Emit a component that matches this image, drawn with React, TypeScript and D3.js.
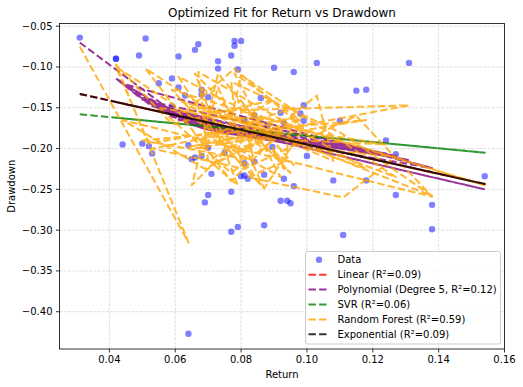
import React from "react";
import * as d3 from "d3";

// ---- data (in original data order) ----
const returns = [
  0.031, 0.064, 0.042, 0.059, 0.090, 0.068, 0.073, 0.088, 0.064, 0.131,
  0.063, 0.078, 0.099, 0.087, 0.059, 0.154, 0.086, 0.065, 0.073, 0.087,
  0.068, 0.127, 0.080, 0.075, 0.061, 0.093, 0.071, 0.099, 0.052, 0.042,
  0.049, 0.081, 0.103, 0.108, 0.070, 0.138, 0.110, 0.077, 0.080, 0.068,
  0.092, 0.070, 0.067, 0.118, 0.061, 0.096, 0.079, 0.084, 0.050, 0.118,
  0.066, 0.079, 0.066, 0.095, 0.081, 0.096, 0.093, 0.078, 0.098, 0.069,
  0.044, 0.138, 0.115, 0.081, 0.053, 0.084, 0.092, 0.070, 0.124, 0.055,
  0.077, 0.0895, 0.077, 0.051, 0.094, 0.082, 0.111, 0.127, 0.100,
];
const drawdowns = [
  -0.064, -0.427, -0.090, -0.148, -0.101, -0.209, -0.093, -0.172, -0.196, -0.095,
  -0.135, -0.068, -0.166, -0.232, -0.114, -0.234, -0.138, -0.213, -0.102, -0.294,
  -0.128, -0.257, -0.068, -0.205, -0.087, -0.169, -0.231, -0.147, -0.197, -0.090,
  -0.086, -0.218, -0.095, -0.239, -0.137, -0.299, -0.166, -0.086, -0.234, -0.134,
  -0.156, -0.257, -0.072, -0.239, -0.125, -0.246, -0.103, -0.216, -0.194, -0.128,
  -0.211, -0.296, -0.079, -0.267, -0.164, -0.106, -0.237, -0.074, -0.157, -0.266,
  -0.195, -0.269, -0.129, -0.233, -0.206, -0.159, -0.264, -0.199, -0.190, -0.120,
  -0.253, -0.198, -0.302, -0.065, -0.264, -0.237, -0.306, -0.207, -0.209,
];
// Random forest predictions (read from the orange path vertices)
const rfPred = [
  -0.075, -0.315, -0.097, -0.170, -0.140, -0.195, -0.108, -0.180, -0.198, -0.147,
  -0.155, -0.102, -0.175, -0.249, -0.128, -0.245, -0.160, -0.245, -0.125, -0.249,
  -0.145, -0.235, -0.110, -0.200, -0.112, -0.178, -0.220, -0.160, -0.194, -0.100,
  -0.118, -0.205, -0.135, -0.215, -0.150, -0.258, -0.180, -0.118, -0.220, -0.160,
  -0.165, -0.215, -0.106, -0.225, -0.140, -0.220, -0.140, -0.215, -0.190, -0.165,
  -0.200, -0.245, -0.108, -0.230, -0.170, -0.150, -0.225, -0.108, -0.165, -0.225,
  -0.165, -0.259, -0.160, -0.225, -0.200, -0.175, -0.235, -0.185, -0.195, -0.150,
  -0.230, -0.190, -0.240, -0.102, -0.215, -0.235, -0.260, -0.210, -0.200,
];

// fitted-curve readings (model value at given Return)
const linKnotsX = [0.031, 0.154];
const linKnotsY = [-0.133, -0.2435];
const expKnotsX = [0.031, 0.09, 0.154];
const expKnotsY = [-0.133, -0.186, -0.2435];
const svrKnotsX = [0.031, 0.154];
const svrKnotsY = [-0.158, -0.205];
const polyKnotsX = [0.031, 0.042, 0.05, 0.055, 0.06, 0.065, 0.07, 0.075, 0.08, 0.085, 0.09, 0.095, 0.10, 0.105, 0.11, 0.115, 0.12, 0.127, 0.131, 0.138, 0.146, 0.154];
const polyKnotsY = [-0.070, -0.114, -0.140, -0.153, -0.163, -0.171, -0.177, -0.181, -0.184, -0.186, -0.188, -0.190, -0.191, -0.193, -0.195, -0.198, -0.202, -0.209, -0.214, -0.224, -0.236, -0.250];

const xTicks = [0.04, 0.06, 0.08, 0.10, 0.12, 0.14, 0.16];
const yTicks = [-0.40, -0.35, -0.30, -0.25, -0.20, -0.15, -0.10, -0.05];

const legendLabels = [
  "Data",
  "Linear (R²=0.09)",
  "Polynomial (Degree 5, R²=0.12)",
  "SVR (R²=0.06)",
  "Random Forest (R²=0.59)",
  "Exponential (R²=0.09)",
];

const W = 523, H = 387;
const L = 59.5, R = 504.5, T = 23.5, B = 349;
const FONT = "DejaVu Sans, sans-serif";

export default function App() {
  const x = d3.scaleLinear().domain([0.02485, 0.16]).range([L, R]);
  const y = d3.scaleLinear().domain([-0.4457, -0.0467]).range([B, T]);

  const lin = d3.scaleLinear().domain(linKnotsX).range(linKnotsY);
  const expo = d3.scaleLinear().domain(expKnotsX).range(expKnotsY);
  const svr = d3.scaleLinear().domain(svrKnotsX).range(svrKnotsY);
  const poly = d3.scaleLinear().domain(polyKnotsX).range(polyKnotsY);

  const idx = d3.range(returns.length);
  const mk = (f: (i: number) => number) =>
    d3.line<number>().x((i) => x(returns[i])).y((i) => y(f(i)))(idx) || "";

  const models = [
    { color: "red", d: mk((i) => lin(returns[i])) },
    { color: "purple", d: mk((i) => poly(returns[i])) },
    { color: "green", d: mk((i) => svr(returns[i])) },
    { color: "orange", d: mk((i) => rfPred[i]) },
    { color: "black", d: mk((i) => expo(returns[i])) },
  ];
  const fmtY = (v: number) => (v < 0 ? "\u2212" : "") + Math.abs(v).toFixed(2);
  const dash = "7.4,3.2";

  return (
    <svg width={W} height={H} style={{ position: "absolute", left: 0, top: 0, background: "white" }} fontFamily={FONT}>
      <rect x={0} y={0} width={W} height={H} fill="white" />
      <defs>
        <clipPath id="clip">
          <rect x={L} y={T} width={R - L} height={B - T} />
        </clipPath>
      </defs>
      {/* grid */}
      {xTicks.map((t) => (
        <line key={"gx" + t} x1={x(t)} x2={x(t)} y1={T} y2={B} stroke="#b0b0b0" strokeOpacity={0.5} strokeWidth={0.8} strokeDasharray="2.96,1.28" />
      ))}
      {yTicks.map((t) => (
        <line key={"gy" + t} x1={L} x2={R} y1={y(t)} y2={y(t)} stroke="#b0b0b0" strokeOpacity={0.5} strokeWidth={0.8} strokeDasharray="2.96,1.28" />
      ))}
      <g clipPath="url(#clip)">
        {idx.map((i) => (
          <circle key={"p" + i} cx={x(returns[i])} cy={y(drawdowns[i])} r={3.2} fill="blue" fillOpacity={0.5} />
        ))}
        {models.map((m) => (
          <path key={m.color} d={m.d} fill="none" stroke={m.color} strokeOpacity={0.8} strokeWidth={2} strokeDasharray={dash} strokeLinejoin="round" />
        ))}
      </g>
      {/* axes frame */}
      <rect x={L} y={T} width={R - L} height={B - T} fill="none" stroke="black" strokeWidth={0.8} />
      {xTicks.map((t) => (
        <g key={"xt" + t}>
          <line x1={x(t)} x2={x(t)} y1={B} y2={B + 3.5} stroke="black" strokeWidth={0.8} />
          <text x={x(t)} y={B + 7} fontSize={10} textAnchor="middle" dominantBaseline="hanging">{t.toFixed(2)}</text>
        </g>
      ))}
      {yTicks.map((t) => (
        <g key={"yt" + t}>
          <line x1={L - 3.5} x2={L} y1={y(t)} y2={y(t)} stroke="black" strokeWidth={0.8} />
          <text x={L - 7} y={y(t)} fontSize={10} textAnchor="end" dominantBaseline="central">{fmtY(t)}</text>
        </g>
      ))}
      <text x={(L + R) / 2} y={378} fontSize={10} textAnchor="middle">Return</text>
      <text x={15} y={(T + B) / 2} fontSize={10} textAnchor="middle" transform={`rotate(-90 15 ${(T + B) / 2})`}>Drawdown</text>
      <text x={(L + R) / 2} y={17} fontSize={12} textAnchor="middle">Optimized Fit for Return vs Drawdown</text>
      {/* legend */}
      <rect x={305.5} y={251.5} width={195} height={92.5} rx={2} fill="white" fillOpacity={0.8} stroke="#cccccc" strokeWidth={1} />
      {legendLabels.map((lab, i) => {
        const cy = 259.8 + i * 14.9;
        return (
          <g key={lab}>
            {i === 0 ? (
              <circle cx={319} cy={cy} r={3.2} fill="blue" fillOpacity={0.5} />
            ) : (
              <line x1={308.5} x2={328.5} y1={cy} y2={cy} stroke={models[i - 1].color} strokeOpacity={0.8} strokeWidth={2} strokeDasharray={dash} />
            )}
            <text x={337.5} y={cy} fontSize={10} dominantBaseline="central">{lab}</text>
          </g>
        );
      })}
    </svg>
  );
}
